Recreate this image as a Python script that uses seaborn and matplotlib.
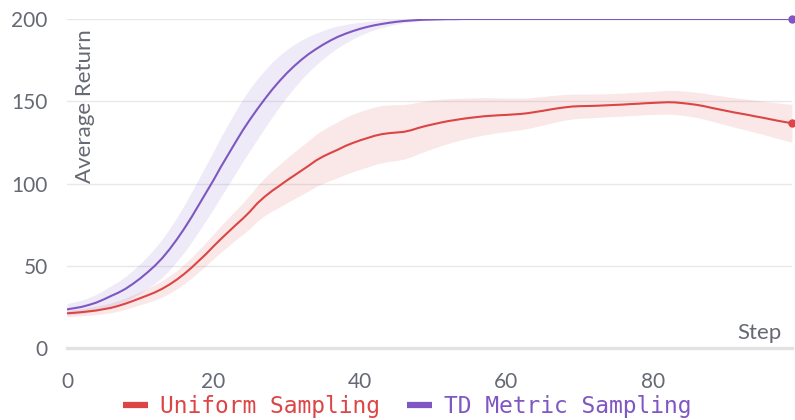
import numpy as np
import pandas as pd
import matplotlib
matplotlib.use("Agg")
import matplotlib.pyplot as plt
from matplotlib.lines import Line2D
import seaborn as sns

# Training step index
steps = list(range(100))

# Uniform Sampling: mean return and spread per step
uniform_mean = [
    21.1, 21.4, 21.8, 22.3, 22.8, 23.6, 24.4, 25.6, 27.0, 28.6,
    30.3, 32.0, 33.8, 36.0, 38.6, 41.6, 45.0, 48.8, 53.0, 57.2,
    61.8, 66.2, 70.4, 74.6, 78.6, 83.0, 88.0, 92.0, 95.5, 98.6,
    101.8, 104.8, 107.8, 110.8, 114.0, 116.5, 118.6, 120.6, 122.8, 124.6,
    126.2, 127.6, 129.0, 130.0, 130.6, 131.0, 131.4, 132.4, 133.8, 135.0,
    136.0, 137.0, 137.9, 138.6, 139.3, 139.9, 140.4, 140.9, 141.2, 141.5,
    141.7, 142.0, 142.3, 142.8, 143.5, 144.2, 145.0, 145.7, 146.3, 146.8,
    147.0, 147.1, 147.2, 147.4, 147.6, 147.8, 148.0, 148.3, 148.5, 148.8,
    149.0, 149.2, 149.4, 149.3, 148.9, 148.4, 147.8, 147.0, 146.0, 145.1,
    144.2, 143.3, 142.5, 141.7, 140.8, 140.0, 139.1, 138.2, 137.4, 136.6,
]
uniform_spread = [
    2.0, 2.1, 2.2, 2.4, 2.6, 2.8, 3.0, 3.2, 3.4, 3.7,
    4.0, 4.3, 4.7, 5.0, 5.3, 5.6, 5.9, 6.3, 6.7, 7.1,
    7.6, 8.0, 8.5, 9.0, 9.6, 10.2, 10.8, 11.5, 12.2, 12.9,
    13.6, 14.2, 14.8, 15.3, 15.8, 16.3, 16.7, 17.0, 17.3, 17.5,
    17.6, 17.6, 17.5, 17.4, 17.2, 17.0, 16.6, 16.2, 15.7, 15.2,
    14.7, 14.2, 13.6, 13.1, 12.6, 12.1, 11.7, 11.3, 10.9, 10.5,
    10.2, 9.9, 9.6, 9.3, 9.0, 8.7, 8.4, 8.1, 7.8, 7.6,
    7.4, 7.3, 7.2, 7.1, 7.0, 7.0, 7.0, 7.0, 7.0, 7.0,
    7.0, 7.1, 7.2, 7.3, 7.4, 7.5, 7.7, 7.9, 8.1, 8.4,
    8.6, 8.9, 9.2, 9.5, 9.8, 10.1, 10.4, 10.8, 11.1, 11.5,
]

# TD Metric Sampling: mean return and spread per step
td_mean = [
    23.5, 24.2, 25.0, 26.2, 27.6, 29.5, 31.6, 33.6, 36.0, 39.0,
    42.3, 46.0, 50.0, 54.6, 60.0, 66.0, 72.5, 79.5, 87.0, 94.5,
    102.0, 110.0, 117.5, 125.0, 132.3, 139.0, 145.3, 151.3, 157.0, 162.2,
    167.0, 171.3, 175.2, 178.7, 181.7, 184.5, 187.0, 189.2, 191.0, 192.6,
    194.0, 195.2, 196.2, 197.0, 197.7, 198.3, 198.8, 199.1, 199.4, 199.6,
    199.7, 199.8, 199.9, 199.9, 200.0, 200.0, 200.0, 200.0, 200.0, 200.0,
    200.0, 200.0, 200.0, 200.0, 200.0, 200.0, 200.0, 200.0, 200.0, 200.0,
    200.0, 200.0, 200.0, 200.0, 200.0, 200.0, 200.0, 200.0, 200.0, 200.0,
    200.0, 200.0, 200.0, 200.0, 200.0, 200.0, 200.0, 200.0, 200.0, 200.0,
    200.0, 200.0, 200.0, 200.0, 200.0, 200.0, 200.0, 200.0, 200.0, 200.0,
]
td_spread = [
    3.5, 3.8, 4.1, 4.5, 5.0, 5.6, 6.2, 6.8, 7.5, 8.2,
    9.0, 9.8, 10.7, 11.6, 12.5, 13.4, 14.3, 15.2, 16.0, 16.8,
    17.5, 18.1, 18.6, 18.9, 19.0, 18.8, 18.3, 17.6, 16.7, 15.6,
    14.4, 13.2, 12.0, 10.8, 9.7, 8.6, 7.6, 6.6, 5.7, 4.8,
    4.0, 3.3, 2.7, 2.2, 1.8, 1.4, 1.1, 0.8, 0.6, 0.4,
    0.3, 0.2, 0.1, 0.1, 0.0, 0.0, 0.0, 0.0, 0.0, 0.0,
    0.0, 0.0, 0.0, 0.0, 0.0, 0.0, 0.0, 0.0, 0.0, 0.0,
    0.0, 0.0, 0.0, 0.0, 0.0, 0.0, 0.0, 0.0, 0.0, 0.0,
    0.0, 0.0, 0.0, 0.0, 0.0, 0.0, 0.0, 0.0, 0.0, 0.0,
    0.0, 0.0, 0.0, 0.0, 0.0, 0.0, 0.0, 0.0, 0.0, 0.0,
]

series_names = ["Uniform Sampling", "TD Metric Sampling"]
series_colors = ["#dc4545", "#7e57c2"]
x_ticks = [0, 20, 40, 60, 80]
y_ticks = [0, 50, 100, 150, 200]
MAX_RETURN = 200

sns.set_theme(style="white")
plt.rcParams["font.family"] = ["Lato", "DejaVu Sans"]

TEXT_GRAY = "#666873"

df = pd.concat([
    pd.DataFrame({"Step": steps, "Return": uniform_mean,
                  "lo": np.array(uniform_mean) - np.array(uniform_spread),
                  "hi": np.array(uniform_mean) + np.array(uniform_spread),
                  "Method": series_names[0]}),
    pd.DataFrame({"Step": steps, "Return": td_mean,
                  "lo": np.array(td_mean) - np.array(td_spread),
                  "hi": np.array(td_mean) + np.array(td_spread),
                  "Method": series_names[1]}),
], ignore_index=True)
df["hi"] = df["hi"].clip(upper=MAX_RETURN)

fig = plt.figure(figsize=(7.95, 4.2), dpi=100)
ax = fig.add_axes([67 / 795, 1 - 348 / 420, 725 / 795, 329 / 420])

palette = dict(zip(series_names, series_colors))
for name in series_names:
    sub = df[df["Method"] == name]
    ax.fill_between(sub["Step"], sub["lo"], sub["hi"], color=palette[name],
                    alpha=0.12, linewidth=0, zorder=1)

sns.lineplot(data=df, x="Step", y="Return", hue="Method", palette=palette,
             linewidth=1.5, legend=False, ax=ax, zorder=3)

for name in series_names:
    sub = df[df["Method"] == name]
    ax.plot(sub["Step"].iloc[-1], sub["Return"].iloc[-1], "o",
            color=palette[name], markersize=5, clip_on=False, zorder=4)

ax.set_xlim(0, 99)
ax.set_ylim(0, MAX_RETURN)
ax.set_xticks(x_ticks)
ax.set_yticks(y_ticks)
ax.set_xlabel("")
ax.set_ylabel("")

ax.yaxis.grid(True, color="#e8e8e8", linewidth=1)
ax.xaxis.grid(False)
ax.set_axisbelow(True)
for side in ["top", "right", "left"]:
    ax.spines[side].set_visible(False)
ax.spines["bottom"].set_color("#e2e2e2")
ax.spines["bottom"].set_linewidth(2.4)
ax.spines["bottom"].set_zorder(0.5)

ax.tick_params(axis="x", direction="inout", length=12, width=1.2,
               color="#e2e2e2", pad=11, labelsize=15, labelcolor=TEXT_GRAY)
ax.tick_params(axis="y", length=0, pad=14, labelsize=15, labelcolor=TEXT_GRAY)

ax.text(0.025, 0.968, "Average Return", transform=ax.transAxes, rotation=90,
        ha="center", va="top", fontsize=16, color=TEXT_GRAY)
ax.text(0.986, 0.045, "Step", transform=ax.transAxes, ha="right",
        va="center", fontsize=16, color=TEXT_GRAY)

handles = [Line2D([0], [0], color=c, linewidth=4.5, solid_capstyle="butt")
           for c in series_colors]
leg = fig.legend(handles, series_names, loc="center", ncol=2,
                 bbox_to_anchor=(0.512, 13.5 / 420), frameon=False,
                 handlelength=1.1, handletextpad=0.5, columnspacing=1.2,
                 prop={"family": "DejaVu Sans Mono", "size": 16.5},
                 borderaxespad=0, borderpad=0)
for text, c in zip(leg.get_texts(), series_colors):
    text.set_color(c)

fig.savefig("out.png", dpi=100)
